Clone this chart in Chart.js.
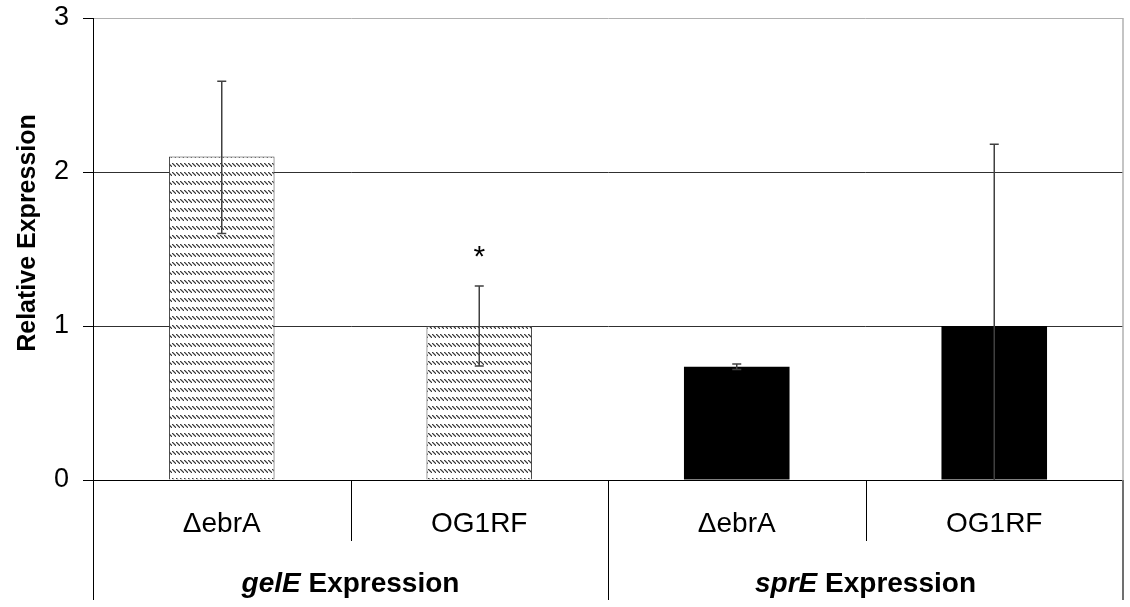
<!DOCTYPE html>
<html>
<head>
<meta charset="utf-8">
<script src="https://cdn.jsdelivr.net/npm/chart.js@4.4.1/dist/chart.umd.min.js"></script>
<style>
  html, body { margin: 0; padding: 0; background: #fff; }
  #wrap { width: 1130px; height: 607px; }
</style>
</head>
<body>
<div id="wrap"><canvas id="chart" width="1130" height="607"></canvas></div>
<script>
// Strains, one bar each
const categories = ['\u0394ebrA', 'OG1RF', '\u0394ebrA', 'OG1RF'];
// Gene group for each bar, and the gene names
const groupOf = [0, 0, 1, 1];
const genes = ['gelE', 'sprE'];
const groupSuffix = ' Expression';
// Relative expression and error bar extents
const expression = [2.10, 1.00, 0.735, 1.00];
const errUpper = [0.49, 0.26, 0.018, 1.18];
const errLower = [0.50, 0.26, 0.018, 1.18];
// Significance marks above the error bars
const significance = ['', '*', '', ''];
const yTicks = [0, 1, 2, 3];

const FONT = "'Liberation Sans', Arial, Helvetica, sans-serif";
const canvas = document.getElementById('chart');
const ctx = canvas.getContext('2d');

// Rows of short diagonal dashes used for the gelE bars
function makeHatch() {
  const c = document.createElement('canvas');
  c.width = 4; c.height = 9;
  const g = c.getContext('2d');
  g.fillStyle = '#ffffff';
  g.fillRect(0, 0, 4, 9);
  g.fillStyle = '#3a3a3a';
  g.fillRect(0, 1, 1, 1);
  g.fillRect(1, 2, 1, 1);
  g.fillRect(2, 3, 1, 1);
  g.fillRect(3, 4, 1, 1);
  g.fillStyle = '#9c9c9c';
  g.fillRect(1, 1, 1, 1);
  g.fillRect(2, 2, 1, 1);
  g.fillRect(3, 3, 1, 1);
  g.fillStyle = '#d0d0d0';
  g.fillRect(0, 2, 1, 1);
  g.fillRect(1, 3, 1, 1);
  g.fillRect(2, 4, 1, 1);
  return ctx.createPattern(c, 'repeat');
}
const hatch = makeHatch();

const decorations = {
  id: 'decorations',
  afterDatasetsDraw(chart) {
    const g = chart.ctx;
    const xs = chart.scales.x, ys = chart.scales.y;
    g.save();
    // error bars
    g.strokeStyle = '#404040';
    g.lineWidth = 1.5;
    expression.forEach((v, i) => {
      const x = xs.getPixelForValue(i);
      const hiV = v + errUpper[i];
      const loV = Math.max(v - errLower[i], ys.min);
      const hi = ys.getPixelForValue(hiV);
      const lo = ys.getPixelForValue(loV);
      g.beginPath();
      g.moveTo(x, lo); g.lineTo(x, hi);
      g.moveTo(x - 4.5, hi); g.lineTo(x + 4.5, hi);
      if (v - errLower[i] > ys.min) { g.moveTo(x - 4.5, lo); g.lineTo(x + 4.5, lo); }
      g.stroke();
      if (significance[i]) {
        g.fillStyle = '#000';
        g.font = '30px ' + FONT;
        g.textAlign = 'center';
        g.textBaseline = 'middle';
        g.fillText(significance[i], x, hi - 28);
      }
    });
    g.restore();
  },
  afterDraw(chart) {
    const g = chart.ctx;
    const xs = chart.scales.x;
    const area = chart.chartArea;
    const n = categories.length;
    g.save();
    // plot area border on the right
    g.strokeStyle = '#b0b0b0';
    g.lineWidth = 1.5;
    g.beginPath();
    g.moveTo(area.right, area.top); g.lineTo(area.right, area.bottom);
    g.stroke();
    // category and group separators under the axis
    for (let i = 0; i <= n; i++) {
      let x;
      if (i === 0) x = area.left;
      else if (i === n) x = area.right;
      else x = (xs.getPixelForValue(i - 1) + xs.getPixelForValue(i)) / 2;
      const groupEdge = i === 0 || i === n || groupOf[i] !== groupOf[i - 1];
      const y2 = groupEdge ? area.bottom + 120 : area.bottom + 61;
      g.strokeStyle = i === n ? '#707070' : '#000';
      g.lineWidth = i === n ? 2 : 1;
      const xx = i === n ? x : Math.round(x) + 0.5;
      g.beginPath();
      g.moveTo(xx, area.bottom); g.lineTo(xx, y2);
      g.stroke();
    }
    // group labels
    g.fillStyle = '#000';
    g.textBaseline = 'middle';
    g.textAlign = 'left';
    genes.forEach((gene, gi) => {
      const idx = groupOf.map((v, i) => v === gi ? i : -1).filter(i => i >= 0);
      const cx = (xs.getPixelForValue(idx[0]) + xs.getPixelForValue(idx[idx.length - 1])) / 2;
      const fItal = 'italic bold 28px ' + FONT;
      const fBold = 'bold 28px ' + FONT;
      g.font = fItal; const w1 = g.measureText(gene).width;
      g.font = fBold; const w2 = g.measureText(groupSuffix).width;
      const x0 = cx - (w1 + w2) / 2;
      const y = area.bottom + 104;
      g.font = fItal; g.fillText(gene, x0, y);
      g.font = fBold; g.fillText(groupSuffix, x0 + w1, y);
    });
    // y axis title
    g.translate(28, (area.top + area.bottom) / 2 - 16);
    g.rotate(-Math.PI / 2);
    g.font = 'bold 25px ' + FONT;
    g.textAlign = 'center';
    g.textBaseline = 'middle';
    g.fillText('Relative Expression', 0, 0);
    g.restore();
  }
};

new Chart(ctx, {
  type: 'bar',
  data: {
    labels: categories,
    datasets: [{
      data: expression,
      backgroundColor: groupOf.map(gi => gi === 0 ? hatch : '#000000'),
      borderColor: groupOf.map(gi => gi === 0 ? '#404040' : '#000000'),
      borderWidth: groupOf.map(gi => gi === 0 ? 1 : 0),
      barPercentage: 0.41,
      categoryPercentage: 1.0
    }]
  },
  options: {
    responsive: false,
    animation: false,
    devicePixelRatio: 1,
    layout: { padding: { left: 0, right: 7, top: 18, bottom: 0 } },
    plugins: { legend: { display: false }, tooltip: { enabled: false } },
    scales: {
      x: {
        offset: true,
        grid: { display: false },
        border: { display: true, color: '#000', width: 1 },
        ticks: { color: '#000', font: { family: FONT, size: 28 }, padding: 19, maxRotation: 0 },
        afterFit: s => { s.height = 127; s.paddingLeft = 0; s.paddingRight = 0; }
      },
      y: {
        min: 0, max: 3,
        afterBuildTicks: s => { s.ticks = yTicks.map(v => ({ value: v })); },
        ticks: { color: '#000', font: { family: FONT, size: 27 }, padding: 14 },
        grid: {
          color: c => (c.tick && c.tick.value === 3) ? '#b0b0b0' : '#303030',
          lineWidth: 1,
          tickLength: 10,
          tickColor: '#000'
        },
        border: { display: true, color: '#000', width: 1 },
        afterFit: s => { s.width = 93; s.paddingTop = 0; s.paddingBottom = 0; }
      }
    }
  },
  plugins: [decorations]
});
</script>
</body>
</html>
